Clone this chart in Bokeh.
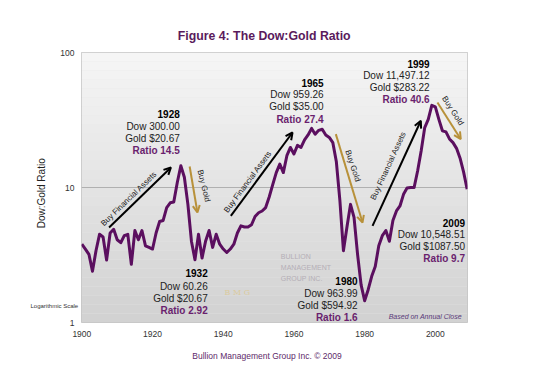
from bokeh.plotting import figure
from bokeh.models import Range1d, FixedTicker, Label, Arrow, OpenHead, BoxAnnotation, Span
from bokeh.embed import file_html
from bokeh.resources import INLINE

years = list(range(1900, 2010))
ratio = [
    3.8, 3.5, 3.2, 2.4, 3.4, 4.5, 4.3, 2.9, 4.6, 4.9,
    4.1, 3.9, 4.4, 4.5, 2.7, 4.8, 4.1, 4.8, 3.7, 3.6,
    3.5, 4.6, 5.6, 5.7, 7.1, 7.7, 7.8, 10.9, 14.5, 11.9,
    7.5, 4.0, 2.92, 4.5, 3.0, 4.0, 4.8, 3.6, 4.5, 3.8,
    3.5, 3.3, 3.5, 3.8, 4.6, 5.2, 5.1, 5.1, 5.3, 6.1,
    6.5, 6.7, 7.1, 8.5, 10.5, 12.9, 14.9, 12.9, 17.2, 19.8,
    17.7, 20.5, 19.8, 22.5, 24.5, 27.4, 24.8, 26.5, 27.0, 24.5,
    23.5, 21.5, 15.5, 8.0, 3.4, 5.1, 7.5, 6.0, 3.2, 1.9,
    1.45, 1.75, 2.2, 2.6, 3.7, 4.4, 4.8, 4.0, 5.7, 6.7,
    7.3, 8.9, 9.9, 10.0, 10.0, 13.3, 18.7, 27.8, 32.0, 40.6,
    39.5, 32.0, 26.3, 25.8, 22.9, 21.5, 19.5, 16.5, 13.0, 9.7,
]
x_ticks = [1900, 1920, 1940, 1960, 1980, 2000]
y_ticks = [1, 10, 100]

# annotation blocks: (x, [y positions], [lines])
blocks = [
    (1927.7, [35.0, 28.3, 23.1, 18.7], ["1928", "Dow 300.00", "Gold $20.67", "Ratio 14.5"]),
    (1968.4, [59.9, 48.6, 39.6, 32.1], ["1965", "Dow 959.26", "Gold $35.00", "Ratio 27.4"]),
    (1998.4, [82.5, 67.2, 54.8, 44.5], ["1999", "Dow 11,497.12", "Gold $283.22", "Ratio 40.6"]),
    (1935.6, [2.307, 1.861, 1.516, 1.236], ["1932", "Dow 60.26", "Gold $20.67", "Ratio 2.92"]),
    (1978.0, [2.037, 1.651, 1.336, 1.089], ["1980", "Dow 963.99", "Gold $594.92", "Ratio 1.6"]),
    (2008.4, [5.50, 4.486, 3.656, 2.979], ["2009", "Dow 10,548.51", "Gold $1087.50", "Ratio 9.7"]),
]

# arrows: (x0, y0, x1, y1, kind)
arrows = [
    (1907.7, 5.05, 1925.2, 14.07, "fin"),
    (1930.5, 14.3, 1932.7, 6.53, "gold"),
    (1942.15, 6.17, 1959.6, 25.55, "fin"),
    (1971.85, 24.86, 1979.4, 5.50, "gold"),
    (1982.24, 5.20, 1995.9, 31.2, "fin"),
    (2000.6, 42.6, 2007.2, 22.8, "gold"),
]
# arrow texts: (x, y, angle_rad, text)
arrow_texts = [
    (1913.3, 8.25, 0.77, "Buy Financial Assets"),
    (1934.5, 10.3, -1.33, "Buy Gold"),
    (1946.96, 11.02, 0.934, "Buy Financial Assets"),
    (1976.66, 14.48, -1.25, "Buy Gold"),
    (1986.7, 14.48, 1.14, "Buy Financial Assets"),
    (2004.95, 37.0, -1.0, "Buy Gold"),
]

FONT = "Liberation Sans"
PURPLE = "#5b0f5f"
RATIO_C = "#6a1f6e"
GOLD_C = "#b8913a"

p = figure(width=550, height=373, y_axis_type="log",
           x_range=Range1d(1899.9, 2009.1), y_range=Range1d(1, 100),
           output_backend="svg", toolbar_location=None,
           min_border_left=81, min_border_right=83, min_border_top=52, min_border_bottom=51)
p.title.text = ""
p.background_fill_color = "#e6e6e6"
p.border_fill_color = "white"
p.outline_line_color = "#c4c4c4"
p.xgrid.visible = False
p.ygrid.visible = False

# gradient background
N = 30
c0 = (0xd2, 0xd2, 0xd2)
c1 = (0xf5, 0xf5, 0xf5)
for i in range(N):
    t = i / (N - 1)
    col = "#%02x%02x%02x" % tuple(int(round(a + (b - a) * t)) for a, b in zip(c0, c1))
    p.add_layout(BoxAnnotation(bottom=10 ** (2 * i / N), top=10 ** (2 * (i + 1) / N),
                               fill_color=col, fill_alpha=1.0, line_alpha=0, level="underlay"))
p.add_layout(Span(location=10, dimension="width", line_color="#b0b0b0", line_width=1, level="underlay"))

# axes
for ax in (p.xaxis[0], p.yaxis[0]):
    ax.axis_line_color = None
    ax.major_tick_line_color = None
    ax.minor_tick_line_color = None
    ax.major_tick_out = 0
    ax.major_tick_in = 0
    ax.major_label_text_font = FONT
    ax.major_label_text_font_size = "8.5px"
    ax.major_label_text_color = "#333333"
p.xaxis.ticker = FixedTicker(ticks=x_ticks)
p.xaxis.major_label_standoff = 8
p.yaxis.ticker = FixedTicker(ticks=y_ticks)
p.yaxis.major_label_overrides = {1: "1", 10: "10", 100: "100"}
p.yaxis.major_label_standoff = 7

# data line
p.line(years, ratio, line_color=PURPLE, line_width=3, line_join="round")

# arrows
for x0, y0, x1, y1, kind in arrows:
    c = "black" if kind == "fin" else GOLD_C
    p.add_layout(Arrow(end=OpenHead(size=7, line_color=c, line_width=2),
                       x_start=x0, y_start=y0, x_end=x1, y_end=y1,
                       line_color=c, line_width=2))
for x, y, a, t in arrow_texts:
    p.add_layout(Label(x=x, y=y, angle=a, text=t, text_font=FONT, text_font_size="8px",
                       text_color="#222222", text_align="center", text_baseline="middle"))

# annotation blocks
for x, ys, lines in blocks:
    for j, (yv, t) in enumerate(zip(ys, lines)):
        if j == 0:
            col, style = "black", "bold"
        elif j == 3:
            col, style = RATIO_C, "bold"
        else:
            col, style = "#222222", "normal"
        p.add_layout(Label(x=x, y=yv, text=t, text_font=FONT, text_font_size="10px",
                           text_font_style=style, text_color=col,
                           text_align="right", text_baseline="middle"))

# logo texts
for yv, t in [(3.07, "BULLION"), (2.57, "MANAGEMENT"), (2.13, "GROUP INC.")]:
    p.add_layout(Label(x=1956.3, y=yv, text=t, text_font=FONT, text_font_size="7px",
                       text_color="#b4aeb6", text_align="left", text_baseline="middle"))
p.add_layout(Label(x=1944.7, y=1.668, text="B  M  G", text_font="DejaVu Serif", text_font_size="8px",
                   text_color="#dccb9e", text_align="center", text_baseline="middle"))
p.add_layout(Label(x=2007.5, y=1.102, text="Based on Annual Close", text_font=FONT,
                   text_font_size="7px", text_font_style="italic", text_color="#5a3a7a",
                   text_align="right", text_baseline="middle"))

# texts outside the frame, canvas units, placed in side panels
outside = [
    ("above", 77.7, 305.3, 0.0, "Logarithmic Scale", "6px", "normal", "#333333", "right"),
    ("left", 41, 192.8, 1.5708, "Dow:Gold Ratio", "10px", "normal", "#222222", "center"),
    ("above", 263.7, 35, 0.0, "Figure 4: The Dow:Gold Ratio", "12.3px", "bold", "#5a1a5c", "center"),
    ("below", 266.5, 355, 0.0, "Bullion Management Group Inc. \u00a9 2009", "8.5px", "normal", "#5e2a6a", "center"),
]
for side, x, y, a, t, fs, st, c, al in outside:
    p.add_layout(Label(x=x, y=y, x_units="canvas", y_units="canvas", angle=a, text=t,
                       text_font=FONT, text_font_size=fs, text_font_style=st, text_color=c,
                       text_align=al, text_baseline="middle"), side)

open("out.html", "w").write(file_html(p, INLINE))
